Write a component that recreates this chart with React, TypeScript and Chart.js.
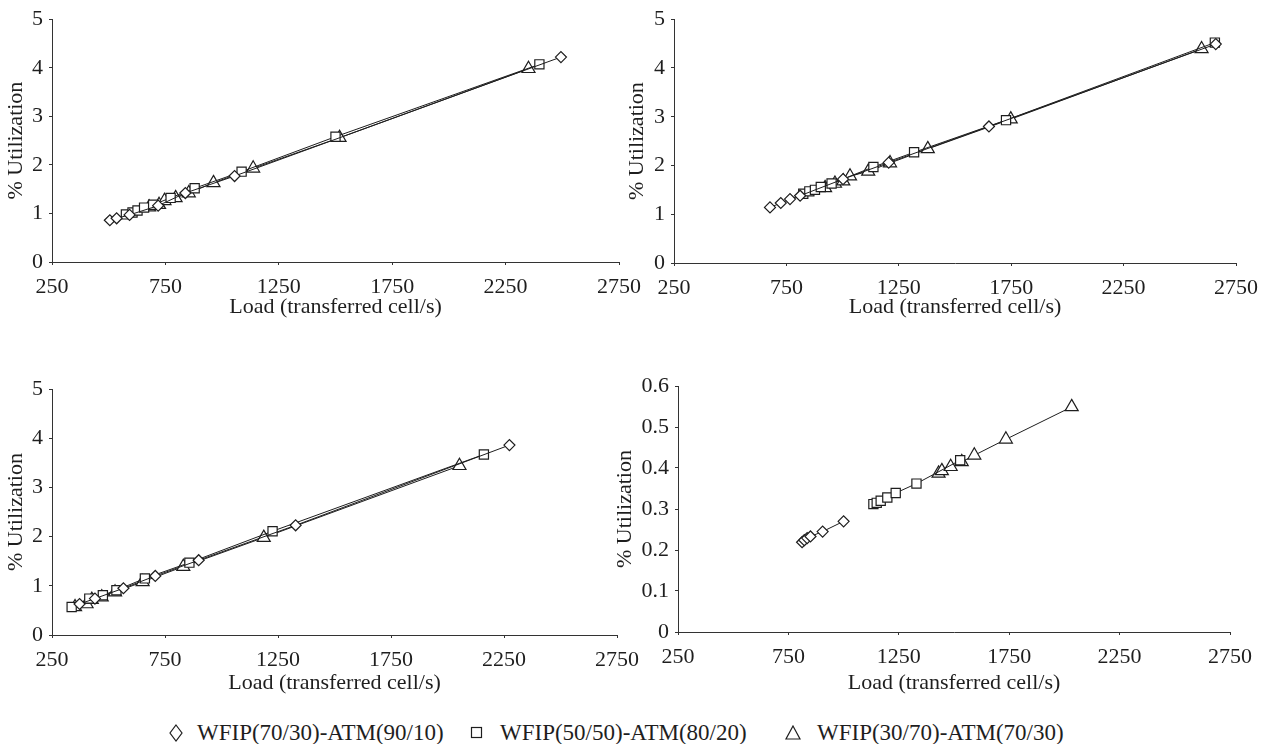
import React, { useEffect, useRef } from "react";
import { Chart, registerables } from "chart.js";
Chart.register(...registerables);

// ---------- data ----------
const SERIES_LABELS = [
  "WFIP(70/30)-ATM(90/10)",
  "WFIP(50/50)-ATM(80/20)",
  "WFIP(30/70)-ATM(70/30)",
];
const X_TICKS = [250, 750, 1250, 1750, 2250, 2750];
const Y_TICKS_PCT = [0, 1, 2, 3, 4, 5];
const Y_TICKS_SMALL = [0, 0.1, 0.2, 0.3, 0.4, 0.5, 0.6];
const X_TITLE = "Load (transferred cell/s)";
const Y_TITLE = "% Utilization";

// Panel 1 (top-left)
const P1_A_LOAD = [505, 535, 592, 718, 838, 1055, 2494];
const P1_A_UTIL = [0.86, 0.9, 0.97, 1.16, 1.42, 1.77, 4.22];
const P1_B_LOAD = [576, 605, 627, 656, 696, 773, 879, 1086, 1500, 2399];
const P1_B_UTIL = [0.98, 1.02, 1.06, 1.12, 1.18, 1.32, 1.52, 1.86, 2.58, 4.07];
const P1_C_LOAD = [678, 722, 746, 795, 853, 962, 1137, 1518, 2351];
const P1_C_UTIL = [1.13, 1.18, 1.26, 1.32, 1.42, 1.63, 1.93, 2.56, 3.98];

// Panel 2 (top-right)
const P2_A_LOAD = [677, 725, 766, 811, 1002, 1205, 1651, 2660];
const P2_A_UTIL = [1.14, 1.23, 1.31, 1.38, 1.72, 2.06, 2.8, 4.49];
const P2_B_LOAD = [825, 852, 877, 903, 951, 1137, 1318, 1727, 2656];
const P2_B_UTIL = [1.42, 1.47, 1.5, 1.56, 1.63, 1.97, 2.27, 2.93, 4.52];
const P2_C_LOAD = [922, 966, 1003, 1033, 1114, 1211, 1379, 1748, 2597];
const P2_C_UTIL = [1.54, 1.63, 1.68, 1.78, 1.88, 2.05, 2.34, 2.95, 4.39];

// Panel 3 (bottom-left)
const P3_A_LOAD = [372, 440, 566, 707, 899, 1328, 2274];
const P3_A_UTIL = [0.63, 0.74, 0.95, 1.2, 1.52, 2.23, 3.86];
const P3_B_LOAD = [337, 415, 475, 535, 661, 858, 1226, 2161];
const P3_B_UTIL = [0.57, 0.74, 0.81, 0.91, 1.15, 1.47, 2.11, 3.67];
const P3_C_LOAD = [352, 403, 426, 470, 529, 651, 831, 1187, 2053];
const P3_C_UTIL = [0.57, 0.63, 0.72, 0.77, 0.87, 1.08, 1.39, 1.98, 3.44];

// Panel 4 (bottom-right)
const P4_A_LOAD = [812, 822, 835, 850, 905, 1000];
const P4_A_UTIL = [0.219, 0.224, 0.229, 0.233, 0.245, 0.27];
const P4_B_LOAD = [1135, 1150, 1168, 1198, 1236, 1330, 1528];
const P4_B_UTIL = [0.312, 0.315, 0.32, 0.328, 0.339, 0.362, 0.419];
const P4_C_LOAD = [1430, 1445, 1485, 1535, 1592, 1735, 2033];
const P4_C_UTIL = [0.387, 0.393, 0.403, 0.415, 0.431, 0.47, 0.549];

// ---------- styling ----------
const FONT = "'Liberation Serif', 'Times New Roman', serif";
const INK = "#1e1e1e";
const POINT_STYLES = ["rectRot", "rect", "triangle"];
const POINT_RADII = [5.5, 6.5, 7.5];
const AXIS_FONT = 22;

type PanelProps = {
  left: number;
  top: number;
  width: number;
  height: number;
  yw: number;
  xh: number;
  padTop: number;
  padRight: number;
  xTitlePad: number;
  yTitlePad: number;
  series: { load: number[]; util: number[] }[];
  yTicks: number[];
};

function Panel(p: PanelProps) {
  const ref = useRef<HTMLCanvasElement | null>(null);
  useEffect(() => {
    if (!ref.current) return;
    const datasets = p.series.map((s, i) => ({
      label: SERIES_LABELS[i],
      data: s.load.map((x, k) => ({ x, y: s.util[k] })),
      showLine: true,
      borderColor: INK,
      borderWidth: 1,
      pointStyle: POINT_STYLES[i] as any,
      pointRadius: POINT_RADII[i],
      pointBackgroundColor: "#ffffff",
      pointBorderColor: INK,
      pointBorderWidth: 1.2,
      tension: 0,
    }));
    const yMax = p.yTicks[p.yTicks.length - 1];
    const chart = new Chart(ref.current, {
      type: "scatter",
      data: { datasets },
      options: {
        animation: false,
        responsive: false,
        maintainAspectRatio: false,
        layout: { padding: { top: p.padTop, right: p.padRight, left: 0, bottom: 0 } },
        plugins: { legend: { display: false }, tooltip: { enabled: false } },
        scales: {
          x: {
            type: "linear",
            min: X_TICKS[0],
            max: X_TICKS[X_TICKS.length - 1],
            afterBuildTicks: (scale: any) => {
              scale.ticks = X_TICKS.map((v) => ({ value: v }));
            },
            afterFit: (scale: any) => {
              scale.height = p.xh;
            },
            grid: { display: true, drawOnChartArea: false, drawTicks: true, tickLength: 3, color: "#333" },
            border: { display: true, color: "#333", width: 1 },
            ticks: {
              color: INK,
              padding: 9,
              maxRotation: 0,
              autoSkip: false,
              font: { family: FONT, size: AXIS_FONT },
              callback: (v: any) => String(v),
            },
            title: {
              display: true,
              text: X_TITLE,
              color: INK,
              font: { family: FONT, size: AXIS_FONT },
              padding: { top: 0, bottom: p.xTitlePad },
            },
          },
          y: {
            type: "linear",
            min: 0,
            max: yMax,
            afterBuildTicks: (scale: any) => {
              scale.ticks = p.yTicks.map((v) => ({ value: v }));
            },
            afterFit: (scale: any) => {
              scale.width = p.yw;
            },
            grid: { display: true, drawOnChartArea: false, drawTicks: true, tickLength: 3, color: "#333" },
            border: { display: true, color: "#333", width: 1 },
            ticks: {
              color: INK,
              padding: 6,
              autoSkip: false,
              font: { family: FONT, size: AXIS_FONT },
              callback: (v: any) => String(Math.round(Number(v) * 10) / 10),
            },
            title: {
              display: true,
              text: Y_TITLE,
              color: INK,
              font: { family: FONT, size: AXIS_FONT },
              padding: { top: p.yTitlePad, bottom: 0 },
            },
          },
        },
      },
    });
    return () => chart.destroy();
  }, []);
  return (
    <canvas
      ref={ref}
      width={p.width}
      height={p.height}
      style={{ position: "absolute", left: p.left, top: p.top, width: p.width, height: p.height }}
    />
  );
}

function Diamond() {
  return (
    <svg width="16" height="18" style={{ position: "absolute", left: 168, top: 724 }}>
      <polygon points="8,1 14,9 8,17 2,9" fill="#fff" stroke={INK} strokeWidth="1.2" />
    </svg>
  );
}
function Square() {
  return (
    <svg width="14" height="14" style={{ position: "absolute", left: 470, top: 726 }}>
      <rect x="1.5" y="1.5" width="10" height="10" fill="#fff" stroke={INK} strokeWidth="1.2" />
    </svg>
  );
}
function Triangle() {
  return (
    <svg width="18" height="16" style={{ position: "absolute", left: 784, top: 725 }}>
      <polygon points="9,1 16,14 2,14" fill="#fff" stroke={INK} strokeWidth="1.2" />
    </svg>
  );
}

const legendText: React.CSSProperties = {
  position: "absolute",
  top: 719,
  fontFamily: FONT,
  fontSize: 23,
  lineHeight: "28px",
  color: INK,
  whiteSpace: "nowrap",
};

export default function App() {
  return (
    <div style={{ position: "absolute", left: 0, top: 0, width: 1268, height: 744, background: "#fff", overflow: "hidden" }}>
      <Panel
        left={0} top={0} width={650} height={330}
        yw={52} xh={68} padTop={19} padRight={26} xTitlePad={10} yTitlePad={3}
        series={[
          { load: P1_A_LOAD, util: P1_A_UTIL },
          { load: P1_B_LOAD, util: P1_B_UTIL },
          { load: P1_C_LOAD, util: P1_C_UTIL },
        ]}
        yTicks={Y_TICKS_PCT}
      />
      <Panel
        left={620} top={0} width={648} height={330}
        yw={54} xh={67} padTop={18} padRight={32} xTitlePad={10} yTitlePad={4}
        series={[
          { load: P2_A_LOAD, util: P2_A_UTIL },
          { load: P2_B_LOAD, util: P2_B_UTIL },
          { load: P2_C_LOAD, util: P2_C_UTIL },
        ]}
        yTicks={Y_TICKS_PCT}
      />
      <Panel
        left={0} top={360} width={650} height={345}
        yw={52} xh={70} padTop={29} padRight={33} xTitlePad={9} yTitlePad={3}
        series={[
          { load: P3_A_LOAD, util: P3_A_UTIL },
          { load: P3_B_LOAD, util: P3_B_UTIL },
          { load: P3_C_LOAD, util: P3_C_UTIL },
        ]}
        yTicks={Y_TICKS_PCT}
      />
      <Panel
        left={600} top={360} width={668} height={345}
        yw={78} xh={73} padTop={26} padRight={38} xTitlePad={9} yTitlePad={12}
        series={[
          { load: P4_A_LOAD, util: P4_A_UTIL },
          { load: P4_B_LOAD, util: P4_B_UTIL },
          { load: P4_C_LOAD, util: P4_C_UTIL },
        ]}
        yTicks={Y_TICKS_SMALL}
      />
      <Diamond />
      <div style={{ ...legendText, left: 197 }}>{SERIES_LABELS[0]}</div>
      <Square />
      <div style={{ ...legendText, left: 500 }}>{SERIES_LABELS[1]}</div>
      <Triangle />
      <div style={{ ...legendText, left: 817 }}>{SERIES_LABELS[2]}</div>
    </div>
  );
}
